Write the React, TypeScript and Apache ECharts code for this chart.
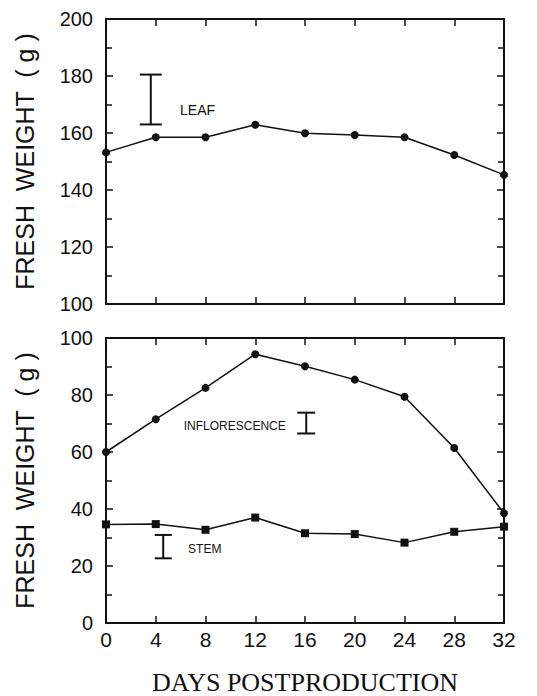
import React, { useEffect, useRef } from "react";
import * as echarts from "echarts";

const days = [0, 4, 8, 12, 16, 20, 24, 28, 32];
const leaf = [153.2, 158.5, 158.5, 162.9, 159.9, 159.3, 158.5, 152.3, 145.3];
const inflorescence = [60, 71.5, 82.5, 94.3, 90.1, 85.4, 79.4, 61.4, 38.5];
const stem = [34.6, 34.7, 32.7, 37, 31.5, 31.2, 28.2, 32, 33.8];

// error bars: [day, low, high]
const leafErr = [[3.6, 163, 180.5]];
const inflErr = [[16.1, 66.5, 73.8]];
const stemErr = [[4.6, 22.7, 30.9]];

// labels: [day, value, text]
const leafLabel = [[5.95, 168, "LEAF"]];
const inflLabel = [[6.25, 69, "INFLORESCENCE"]];
const stemLabel = [[6.6, 26, "STEM"]];

const yTopTicks = [100, 120, 140, 160, 180, 200];
const yBottomTicks = [0, 20, 40, 60, 80, 100];

const yTitle = "FRESH  WEIGHT  ( g )";
const xTitle = "DAYS POSTPRODUCTION";

const SANS = "Liberation Sans";
const INK = "#111";

function errRender(cap: number) {
  return (params: any, api: any) => {
    const x = api.value(0);
    const lo = api.coord([x, api.value(1)]);
    const hi = api.coord([x, api.value(2)]);
    const s = { stroke: INK, lineWidth: 2 };
    return {
      type: "group",
      children: [
        { type: "line", shape: { x1: lo[0], y1: lo[1], x2: hi[0], y2: hi[1] }, style: s },
        { type: "line", shape: { x1: lo[0] - cap / 2, y1: lo[1], x2: lo[0] + cap / 2, y2: lo[1] }, style: s },
        { type: "line", shape: { x1: hi[0] - cap / 2, y1: hi[1], x2: hi[0] + cap / 2, y2: hi[1] }, style: s },
      ],
    };
  };
}

export default function App() {
  const ref = useRef<HTMLDivElement>(null);
  useEffect(() => {
    if (!ref.current) return;
    const chart = echarts.init(ref.current, undefined, { renderer: "svg" });
    const axisLine = () => ({ show: true, onZero: false, lineStyle: { color: INK, width: 2 } });
    const tick = () => ({ show: true, inside: true, length: 7, lineStyle: { color: INK, width: 1.5 } });
    const minor = () => ({ show: true, splitNumber: 2, length: 6, lineStyle: { color: INK, width: 1.5 } });
    const xBase = () => ({
      type: "value",
      min: 0,
      max: 32,
      interval: 4,
      axisLine: axisLine(),
      axisTick: tick(),
      splitLine: { show: false },
    });
    const yBase = (grid: number, pos: string, ticks: number[]) => ({
      type: "value",
      gridIndex: grid,
      position: pos,
      min: ticks[0],
      max: ticks[ticks.length - 1],
      interval: 20,
      axisLine: axisLine(),
      axisTick: tick(),
      minorTick: minor(),
      splitLine: { show: false },
      minorSplitLine: { show: false },
    });
    const yLabel = () => ({
      show: true,
      fontSize: 20,
      fontFamily: SANS,
      color: INK,
      margin: 13,
    });
    const yName = () => ({
      name: yTitle,
      nameLocation: "middle",
      nameGap: 69,
      nameTextStyle: { fontSize: 25, fontFamily: SANS, color: INK },
    });
    const mkLabel = (data: any[], size: number, xi: number, yi: number) => ({
      type: "custom",
      xAxisIndex: xi,
      yAxisIndex: yi,
      data: data.map((d) => [d[0], d[1]]),
      renderItem: (params: any, api: any) => {
        const p = api.coord([api.value(0), api.value(1)]);
        return {
          type: "text",
          x: p[0],
          y: p[1],
          style: {
            text: data[params.dataIndex][2],
            fontSize: size,
            fontFamily: SANS,
            fill: INK,
            align: "left",
            verticalAlign: "middle",
          },
        };
      },
      silent: true,
      z: 5,
    });
    chart.setOption({
      animation: false,
      backgroundColor: "#fff",
      grid: [
        { left: 106, top: 19, width: 398, height: 285 },
        { left: 106, top: 338, width: 398, height: 285 },
      ],
      xAxis: [
        { ...xBase(), gridIndex: 0, position: "bottom", axisLabel: { show: false } },
        { ...xBase(), gridIndex: 0, position: "top", axisLabel: { show: false } },
        {
          ...xBase(),
          gridIndex: 1,
          position: "bottom",
          axisLabel: { show: true, fontSize: 21, fontFamily: SANS, color: INK, margin: 6 },
          name: xTitle,
          nameLocation: "middle",
          nameGap: 46,
          nameTextStyle: { fontSize: 26, fontFamily: "Liberation Serif", color: INK },
        },
        { ...xBase(), gridIndex: 1, position: "top", axisLabel: { show: false } },
      ],
      yAxis: [
        { ...yBase(0, "left", yTopTicks), axisLabel: yLabel(), ...yName() },
        { ...yBase(0, "right", yTopTicks), axisLabel: { show: false } },
        { ...yBase(1, "left", yBottomTicks), axisLabel: yLabel(), ...yName() },
        { ...yBase(1, "right", yBottomTicks), axisLabel: { show: false } },
      ],
      series: [
        {
          type: "line",
          xAxisIndex: 0,
          yAxisIndex: 0,
          data: days.map((d, i) => [d, leaf[i]]),
          symbol: "circle",
          symbolSize: 8,
          itemStyle: { color: INK },
          lineStyle: { color: INK, width: 1.5 },
          z: 3,
        },
        {
          type: "line",
          xAxisIndex: 2,
          yAxisIndex: 2,
          data: days.map((d, i) => [d, inflorescence[i]]),
          symbol: "circle",
          symbolSize: 8,
          itemStyle: { color: INK },
          lineStyle: { color: INK, width: 1.5 },
          z: 3,
        },
        {
          type: "line",
          xAxisIndex: 2,
          yAxisIndex: 2,
          data: days.map((d, i) => [d, stem[i]]),
          symbol: "rect",
          symbolSize: 8,
          itemStyle: { color: INK },
          lineStyle: { color: INK, width: 1.5 },
          z: 3,
        },
        { type: "custom", xAxisIndex: 0, yAxisIndex: 0, data: leafErr, renderItem: errRender(22), silent: true },
        { type: "custom", xAxisIndex: 2, yAxisIndex: 2, data: inflErr, renderItem: errRender(18), silent: true },
        { type: "custom", xAxisIndex: 2, yAxisIndex: 2, data: stemErr, renderItem: errRender(17), silent: true },
        mkLabel(leafLabel, 14, 0, 0),
        mkLabel(inflLabel, 12, 2, 2),
        mkLabel(stemLabel, 12, 2, 2),
      ],
    });
    return () => chart.dispose();
  }, []);
  return (
    <div
      ref={ref}
      style={{ position: "absolute", left: 0, top: 0, width: 537, height: 696 }}
    />
  );
}
